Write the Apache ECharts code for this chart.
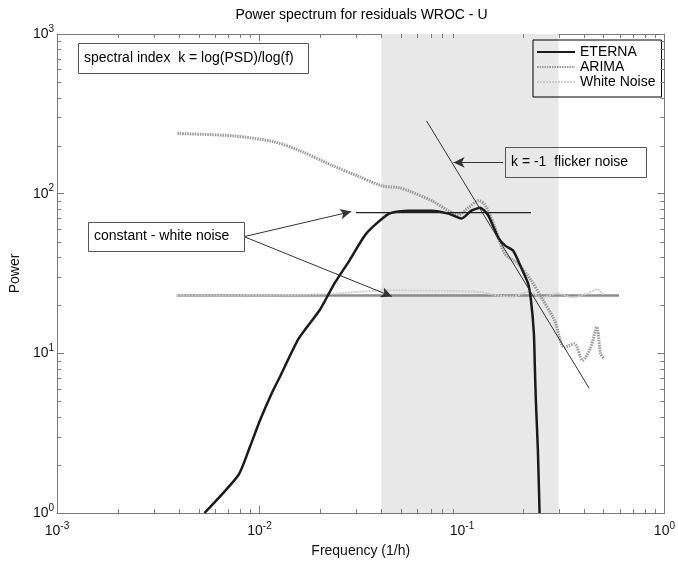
<!DOCTYPE html>
<html><head><meta charset="utf-8">
<script src="https://cdn.jsdelivr.net/npm/echarts@6/dist/echarts.min.js"></script>
<style>html,body{margin:0;padding:0;background:#fff}#c{width:678px;height:563px}</style>
</head><body><div id="c"></div>
<script>
const FONT = '"Liberation Sans", Arial, Helvetica, sans-serif';
const titleText = 'Power spectrum for residuals WROC - U';
const xAxisName = 'Frequency (1/h)';
const yAxisName = 'Power';
const legendNames = ['ETERNA', 'ARIMA', 'White Noise'];
const minorMultipliers = [2, 3, 4, 5, 6, 7, 8, 9];
const xDecades = [0.001, 0.01, 0.1];
const yDecades = [1, 10, 100];

// ETERNA spectrum
const eternaFreq  = [0.00535, 0.00787, 0.00897, 0.01006, 0.01148, 0.0126, 0.01563, 0.0198, 0.0235, 0.0278, 0.03366, 0.04366, 0.0547, 0.0708, 0.0859, 0.0993, 0.1113, 0.123, 0.1349, 0.151, 0.1634, 0.1788, 0.196, 0.212, 0.2193, 0.2266, 0.2291, 0.2317, 0.2371, 0.2417];
const eternaPower = [1.0, 1.73, 2.60, 3.81, 5.60, 7.11, 12.4, 18.6, 27.5, 38.1, 56.2, 75.0, 78.3, 78.3, 75.0, 69.8, 78.3, 81.7, 73.0, 53.1, 47.3, 44.0, 34.5, 27.4, 21.4, 13.3, 8.18, 5.08, 2.48, 1.0];

// ARIMA spectrum
const arimaFreq  = [0.00393, 0.00741, 0.01164, 0.01579, 0.0229, 0.03006, 0.04031, 0.04884, 0.0547, 0.0708, 0.0859, 0.0961, 0.108, 0.1205, 0.13, 0.1455, 0.163, 0.1892, 0.2198, 0.246, 0.2864, 0.3206, 0.359, 0.394, 0.4326, 0.463, 0.484, 0.504];
const arimaPower = [238, 230, 212, 186, 150, 130, 112, 109, 104, 90.4, 78, 74, 82, 90.4, 85, 61.5, 42, 36.4, 28.6, 22.5, 16.1, 10.9, 11.5, 9.04, 10.9, 14.6, 9.96, 9.27];

// White noise spectrum
const whiteFreq  = [0.0039, 0.01, 0.02, 0.03, 0.0403, 0.0487, 0.0859, 0.123, 0.151, 0.179, 0.212, 0.2506, 0.297, 0.352, 0.417, 0.467, 0.505];
const whitePower = [23.0, 23.1, 23.4, 24.2, 24.8, 24.8, 24.6, 24.2, 23.0, 22.7, 24.2, 22.4, 23.7, 22.4, 23.7, 25.2, 23.0];

// Annotation lines
const whiteLevelFreq = [0.0039, 0.597];
const whiteLevelPower = [23, 23];
const flatFreq = [0.030, 0.219];
const flatPower = [76, 76];
const flickerFreq = [0.0668, 0.425];
const flickerPower = [286, 6.04];
const arrows = [
  [[0.00839, 53.8], [0.0284, 77.2]],
  [[0.00839, 53.8], [0.0451, 22.7]],
  [[0.1597, 157], [0.0909, 157]]
];
const shadeRange = [0.04, 0.3];

const boxTexts = [
  {text: 'spectral index  k = log(PSD)/log(f)', x: 78, y: 43, w: 230, h: 30},
  {text: 'k = -1  flicker noise', x: 505, y: 147, w: 141, h: 30},
  {text: 'constant - white noise', x: 88, y: 222, w: 156, h: 29}
];

const pairs = (fs, ps) => fs.map((f, i) => [f, ps[i]]);
const xMinor = [];
xDecades.forEach(d => minorMultipliers.forEach(m => xMinor.push([d * m, 1])));
const yMinor = [];
yDecades.forEach(d => minorMultipliers.forEach(m => yMinor.push([0.001, d * m])));

const AX = '#7a7a7a';
const labelFmt = v => '{b|10}{s|' + Math.round(Math.log10(v)) + '}';
const rich = {
  b: {fontSize: 14, fontFamily: FONT, color: '#111', lineHeight: 20},
  s: {fontSize: 10, fontFamily: FONT, color: '#111', lineHeight: 8, verticalAlign: 'top'}
};
const axisBase = {
  type: 'log', logBase: 10,
  axisLine: {show: true, onZero: false, lineStyle: {color: AX, width: 1}},
  axisTick: {show: true, inside: true, length: 7, lineStyle: {color: AX, width: 1}},
  splitLine: {show: false},
  minorTick: {show: false}
};

const chart = echarts.init(document.getElementById('c'));
const minorTickSeries = (data, isX) => ({
  type: 'custom', silent: true, z: 20, clip: false, data: data,
  renderItem: (params, api) => {
    const cs = params.coordSys;
    const p = api.coord([api.value(0), api.value(1)]);
    const st = {stroke: AX, lineWidth: 1};
    if (isX) {
      const x = Math.round(p[0]) + 0.5;
      return {type: 'group', children: [
        {type: 'line', shape: {x1: x, y1: cs.y + cs.height, x2: x, y2: cs.y + cs.height - 4}, style: st},
        {type: 'line', shape: {x1: x, y1: cs.y, x2: x, y2: cs.y + 4}, style: st}
      ]};
    }
    const y = Math.round(p[1]) + 0.5;
    return {type: 'group', children: [
      {type: 'line', shape: {x1: cs.x, y1: y, x2: cs.x + 4, y2: y}, style: st},
      {type: 'line', shape: {x1: cs.x + cs.width, y1: y, x2: cs.x + cs.width - 4, y2: y}, style: st}
    ]};
  }
});

const graphics = [{
  type: 'text', x: 361.5, y: 15.5, z: 100,
  style: {text: titleText, font: '14px ' + FONT, fill: '#000', align: 'center', verticalAlign: 'middle'}
}];
boxTexts.forEach(b => {
  graphics.push({type: 'rect', z: 100, shape: {x: b.x + 0.5, y: b.y + 0.5, width: b.w, height: b.h},
    style: {fill: 'none', stroke: '#555', lineWidth: 1}});
  graphics.push({type: 'text', z: 101, x: b.x + 6, y: b.y + b.h / 2,
    style: {text: b.text, font: '14px ' + FONT, fill: '#000', align: 'left', verticalAlign: 'middle'}});
});

chart.setOption({
  animation: false,
  backgroundColor: '#fff',
  grid: {left: 56, right: 10, top: 34, bottom: 50},
  xAxis: [
    Object.assign({}, axisBase, {min: 0.001, max: 1, position: 'bottom',
      name: xAxisName, nameLocation: 'middle', nameGap: 31,
      nameTextStyle: {fontSize: 14, fontFamily: FONT, color: '#111'},
      axisLabel: {formatter: labelFmt, rich: rich, margin: 8}}),
    Object.assign({}, axisBase, {min: 0.001, max: 1, position: 'top', axisLabel: {show: false}})
  ],
  yAxis: [
    Object.assign({}, axisBase, {min: 1, max: 1000, position: 'left',
      name: yAxisName, nameLocation: 'middle', nameGap: 32,
      nameTextStyle: {fontSize: 14, fontFamily: FONT, color: '#111'},
      axisLabel: {formatter: labelFmt, rich: rich, margin: 3}}),
    Object.assign({}, axisBase, {min: 1, max: 1000, position: 'right', axisLabel: {show: false}})
  ],
  legend: {
    orient: 'vertical', left: 533, top: 40, data: legendNames,
    borderColor: '#000', borderWidth: 1, padding: [5, 6, 8, 3],
    itemWidth: 38, itemHeight: 14, itemGap: 1,
    itemStyle: {opacity: 0},
    textStyle: {fontSize: 14, fontFamily: FONT, color: '#000'}
  },
  graphic: graphics,
  series: [
    {
      name: 'shade', type: 'line', data: [], silent: true,
      markArea: {silent: true, itemStyle: {color: '#e8e8e8'}, data: [[{xAxis: shadeRange[0]}, {xAxis: shadeRange[1]}]]}
    },
    {
      name: 'white level', type: 'line', data: pairs(whiteLevelFreq, whiteLevelPower), symbol: 'none', z: 3,
      lineStyle: {color: '#8c8c8c', width: 2.5}
    },
    {
      name: 'White Noise', type: 'line', data: pairs(whiteFreq, whitePower), symbol: 'none', smooth: 0.3, z: 4,
      lineStyle: {color: '#cdcdcd', width: 2, type: [2, 1]}, itemStyle: {color: '#cdcdcd'}
    },
    {
      name: 'ARIMA', type: 'line', data: pairs(arimaFreq, arimaPower), symbol: 'none', smooth: 0.3, z: 5,
      lineStyle: {color: '#999', width: 3, type: [1.5, 1]}, itemStyle: {color: '#999'}
    },
    {
      name: 'ETERNA', type: 'line', data: pairs(eternaFreq, eternaPower), symbol: 'none', smooth: 0.2, z: 6,
      lineStyle: {color: '#1a1a1a', width: 2.5}, itemStyle: {color: '#1a1a1a'}
    },
    {
      name: 'flat fit', type: 'line', data: pairs(flatFreq, flatPower), symbol: 'none', z: 7,
      lineStyle: {color: '#222', width: 1.3}
    },
    {
      name: 'flicker fit', type: 'line', data: pairs(flickerFreq, flickerPower), symbol: 'none', z: 7,
      lineStyle: {color: '#333', width: 1}
    },
    {
      name: 'arrows', type: 'line', data: [], z: 8,
      markLine: {
        silent: true, symbol: ['none', 'arrow'], symbolSize: [8, 11], label: {show: false},
        lineStyle: {color: '#333', width: 1, type: 'solid'}, itemStyle: {color: '#111'},
        emphasis: {disabled: true},
        data: arrows.map(a => [{coord: a[0]}, {coord: a[1]}])
      }
    },
    minorTickSeries(xMinor, true),
    minorTickSeries(yMinor, false)
  ]
});
</script></body></html>
